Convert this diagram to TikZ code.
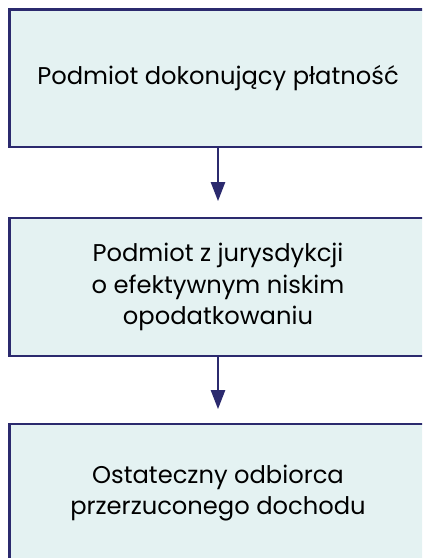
\documentclass[tikz,border=0pt]{standalone}
\usepackage{fontspec}
\setmainfont{Poppins}
\usetikzlibrary{arrows.meta}
\definecolor{navy}{HTML}{2B2A6E}
\definecolor{boxfill}{HTML}{E4F2F2}
\begin{document}
\begin{tikzpicture}[x=1bp,y=-1bp,
  flowbox/.style={draw=navy,fill=boxfill,line width=2.2bp,minimum width=417bp,minimum height=137.5bp,
    align=center,font=\fontsize{24.3}{31.5}\selectfont,inner sep=0pt},
  flowarrow/.style={draw=navy,line width=2.4bp,-{Triangle[length=19bp,width=14bp]}}]
\useasboundingbox (0,0) rectangle (422,558);
\clip (0,0) rectangle (422,558);
\fill[white] (0,0) rectangle (422,558);
\node[flowbox] (a) at (218,78.25) {Podmiot dokonujący płatność};
\node[flowbox] (b) at (218,287) {Podmiot z jurysdykcji\\o efektywnym niskim\\opodatkowaniu};
\node[flowbox] (c) at (218,493) {Ostateczny odbiorca\\przerzuconego dochodu};
\draw[flowarrow] (a.south) -- ([yshift=16bp]b.north);
\draw[flowarrow] (b.south) -- ([yshift=14bp]c.north);
\end{tikzpicture}
\end{document}
